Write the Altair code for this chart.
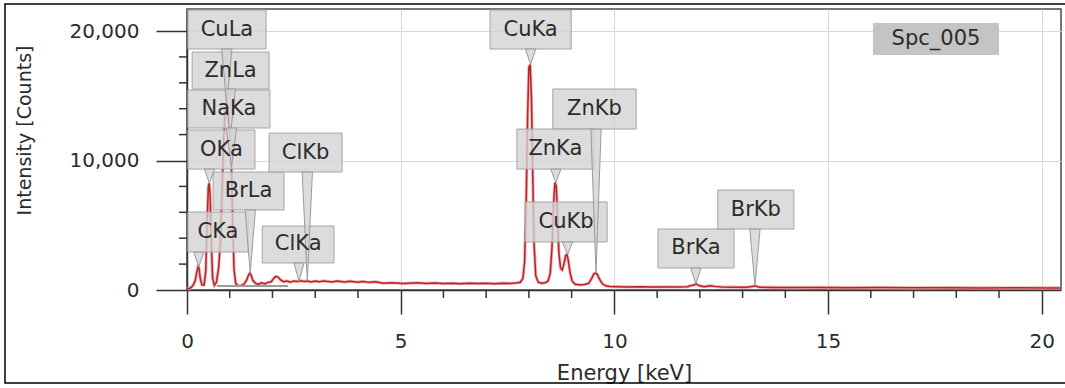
import altair as alt
import pandas as pd

# ---- EDS spectrum (energy in keV, intensity in counts) ----
energy_kev = [
    0.00, 0.08, 0.14, 0.19, 0.23, 0.26, 0.28, 0.31, 0.35, 0.40, 0.44, 0.47,
    0.50, 0.52, 0.54, 0.57, 0.60, 0.64, 0.69, 0.74, 0.78, 0.82, 0.86, 0.89,
    0.92, 0.95, 0.98, 1.01, 1.04, 1.07, 1.10, 1.14, 1.20, 1.27, 1.34, 1.40,
    1.44, 1.47, 1.50, 1.54, 1.60, 1.67, 1.74, 1.82, 1.90, 1.97, 2.03, 2.08,
    2.13, 2.19, 2.26, 2.34, 2.42, 2.50, 2.58, 2.66, 2.74, 2.82, 2.90, 3.00,
    3.10, 3.20, 3.30, 3.40, 3.50, 3.60, 3.70, 3.80, 3.90, 4.00, 4.10, 4.20,
    4.30, 4.40, 4.50, 4.60, 4.75, 4.90, 5.05, 5.20, 5.40, 5.60, 5.80, 6.00,
    6.20, 6.40, 6.60, 6.80, 7.00, 7.20, 7.40, 7.55, 7.70, 7.80, 7.86, 7.90,
    7.94, 7.97, 8.00, 8.03, 8.06, 8.09, 8.12, 8.16, 8.22, 8.30, 8.38, 8.45,
    8.50, 8.54, 8.58, 8.61, 8.64, 8.67, 8.70, 8.74, 8.78, 8.82, 8.86, 8.89,
    8.92, 8.96, 9.01, 9.08, 9.18, 9.30, 9.40, 9.47, 9.52, 9.56, 9.60, 9.65,
    9.72, 9.80, 9.90, 10.05, 10.30, 10.60, 10.90, 11.20, 11.50, 11.70, 11.85,
    11.92, 12.00, 12.10, 12.25, 12.35, 12.50, 12.80, 13.10, 13.25, 13.30,
    13.40, 13.70, 14.20, 14.80, 15.50, 16.20, 17.00, 17.80, 18.60, 19.40,
    20.20, 20.45,
]
intensity_counts = [
    80, 150, 350, 700, 1400, 1800, 1700, 900, 400, 380, 1500, 5200,
    8000, 8250, 7400, 3500, 900, 350, 600, 1700, 3600, 7500, 11800, 13600,
    14400, 14300, 13300, 11800, 9500, 5200, 1600, 500, 320, 350, 480, 800,
    1150, 1300, 1150, 750, 520, 430, 560, 470, 590, 640, 900, 1050,
    1000, 780, 640, 700, 610, 690, 650, 720, 660, 700, 620, 690,
    640, 700, 660, 620, 690, 650, 610, 680, 640, 600, 660, 620,
    590, 640, 580, 520, 560, 540, 500, 530, 560, 510, 540, 500,
    520, 490, 530, 500, 520, 490, 530, 510, 540, 600, 900, 2200,
    7500, 13500, 17200, 17400, 14800, 8800, 3600, 1100, 600, 520, 560, 700,
    1300, 3300, 6800, 8300, 8000, 5600, 2900, 1700, 1550, 2000, 2650, 2750,
    2300, 1400, 700, 450, 400, 420, 520, 900, 1250, 1320, 1200, 850,
    480, 320, 270, 260, 240, 250, 230, 240, 230, 250, 380,
    450, 320, 260, 330, 280, 230, 220, 210, 290, 300,
    220, 200, 190, 200, 180, 190, 170, 180, 160, 170,
    160, 160,
]

# ---- identified X-ray lines ----
line_names = ["CuLa", "ZnLa", "NaKa", "OKa", "BrLa", "CKa", "ClKb", "ClKa",
              "CuKa", "ZnKb", "ZnKa", "CuKb", "BrKa", "BrKb"]
line_kev = [0.930, 1.012, 1.041, 0.525, 1.480, 0.277, 2.815, 2.621,
            8.040, 9.570, 8.630, 8.904, 11.907, 13.289]
line_tip_counts = [14400, 11800, 9500, 8250, 1300, 1800, 700, 680,
                   17400, 1320, 8300, 2750, 450, 300]

# label box placement (keV for left/right, counts for top/bottom)
box_left = [0.02, 0.12, 0.02, 0.02, 0.61, 0.02, 1.92, 1.76,
            7.09, 8.56, 7.72, 7.91, 11.02, 12.42]
box_right = [1.85, 1.92, 1.94, 1.59, 2.27, 1.43, 3.63, 3.44,
             8.99, 10.51, 9.52, 9.83, 12.80, 14.20]
box_top = [21620, 18380, 15440, 12360, 9110, 6020, 12120, 4940,
           21620, 15520, 12430, 6800, 4710, 7720]
box_bottom = [18610, 15520, 12510, 9340, 6180, 2930, 9110, 2090,
              18610, 12430, 9340, 3710, 1700, 4710]

# spectrum tag
spectrum_name = ["Spc_005"]
tag_left, tag_right, tag_top, tag_bottom = [16.05], [19.00], [20620], [18150]

# region marker drawn near the baseline
roi_start, roi_end, roi_level = [0.70], [2.36], [300]

# axis ticks
x_major = [0, 5, 10, 15, 20]
x_minor = [1, 2, 3, 4, 6, 7, 8, 9, 11, 12, 13, 14, 16, 17, 18, 19]
y_major = [0, 10000, 20000]
y_minor = [2000, 4000, 6000, 8000, 12000, 14000, 16000, 18000]

X_MAX = 20.45
Y_MAX = 21700
W, H = 874, 281
FONT = "DejaVu Sans"
INK = "#2b2b2b"
POINTER_HALF = 0.12  # keV

x_scale = alt.Scale(domain=[0, X_MAX], nice=False, zero=False)
y_scale = alt.Scale(domain=[0, Y_MAX], nice=False, zero=False)

x_axis = alt.Axis(
    values=x_major, format="d", title="Energy [keV]",
    tickSize=24, tickWidth=1.5, tickColor="#333", domainColor="#333", domainWidth=1.5,
    labelFont=FONT, labelFontSize=20, labelColor=INK, labelPadding=17,
    labelFlush=False, labelOverlap=False,
    grid=True, gridColor="#d8d8d8", gridWidth=1,
    titleFont=FONT, titleFontSize=21, titleFontWeight="normal", titleColor=INK,
    titleY=72, titleBaseline="top",
)
y_axis = alt.Axis(
    values=y_major, format=",d", title="Intensity [Counts]",
    tickSize=31, tickWidth=1.5, tickColor="#333", domainColor="#333", domainWidth=1.5,
    labelFont=FONT, labelFontSize=20, labelColor=INK, labelPadding=17,
    labelFlush=False, labelOverlap=False,
    grid=True, gridColor="#d8d8d8", gridWidth=1,
    titleFont=FONT, titleFontSize=19, titleFontWeight="normal", titleColor=INK,
    titleX=-163, titleY=121, titleAngle=270, titleAlign="center", titleBaseline="middle",
)


def xq(field):
    # every layer shares one x scale and the same axis definition
    return alt.X(field, type="quantitative", scale=x_scale, axis=x_axis)


def yq(field):
    return alt.Y(field, type="quantitative", scale=y_scale, axis=y_axis)


spec_df = pd.DataFrame({"energy": energy_kev, "counts": intensity_counts})

halo = alt.Chart(spec_df).mark_line(color="#eda6a6", strokeWidth=3.2, opacity=0.85).encode(
    x=xq("energy"), y=yq("counts"), order="energy:Q",
)
spectrum = alt.Chart(spec_df).mark_line(color="#bb2228", strokeWidth=1.5).encode(
    x=xq("energy"), y=yq("counts"), order="energy:Q",
)

roi = alt.Chart(pd.DataFrame({"a": roi_start, "b": roi_end, "lvl": roi_level})).mark_rule(
    color="#9c9c9c", strokeWidth=2
).encode(x=xq("a"), x2="b:Q", y=yq("lvl"))

# minor ticks on both axes
minor_x = alt.Chart(pd.DataFrame({"v": x_minor})).mark_rule(color="#333", strokeWidth=1.5).encode(
    x=xq("v"), y=alt.value(H), y2=alt.value(H + 8)
)
minor_y = alt.Chart(pd.DataFrame({"v": y_minor})).mark_rule(color="#333", strokeWidth=1.5).encode(
    y=yq("v"), x=alt.value(-8), x2=alt.value(0)
)

# label boxes
box_df = pd.DataFrame({
    "name": line_names, "left": box_left, "right": box_right,
    "top": box_top, "bottom": box_bottom,
})
box_df["cx"] = (box_df["left"] + box_df["right"]) / 2
box_df["cy"] = (box_df["top"] + box_df["bottom"]) / 2

boxes = alt.Chart(box_df).mark_rect(
    fill="#d3d3d3", fillOpacity=0.8, stroke="#a4a4a4", strokeWidth=1
).encode(x=xq("left"), x2="right:Q", y=yq("bottom"), y2="top:Q")

# pointer triangles from each box down to its line
ptr_rows = []
for name, kev, tip, bot in zip(line_names, line_kev, line_tip_counts, box_bottom):
    ptr_rows.append({"name": name, "yy": bot, "xl": kev - POINTER_HALF, "xr": kev + POINTER_HALF})
    ptr_rows.append({"name": name, "yy": tip, "xl": kev, "xr": kev})
ptr_df = pd.DataFrame(ptr_rows)

pointers = alt.Chart(ptr_df).mark_area(
    orient="horizontal", fill="#d3d3d3", fillOpacity=0.8, stroke="#9a9a9a", strokeWidth=1
).encode(y=yq("yy"), x=xq("xl"), x2="xr:Q", detail="name:N")

labels = alt.Chart(box_df).mark_text(
    font=FONT, fontSize=21, color=INK, align="center", baseline="middle"
).encode(x=xq("cx"), y=yq("cy"), text="name:N")

tag_df = pd.DataFrame({"name": spectrum_name, "l": tag_left, "r": tag_right,
                       "t": tag_top, "b": tag_bottom})
tag_df["cx"] = (tag_df["l"] + tag_df["r"]) / 2
tag_df["cy"] = (tag_df["t"] + tag_df["b"]) / 2
tag_box = alt.Chart(tag_df).mark_rect(fill="#c4c4c4").encode(
    x=xq("l"), x2="r:Q", y=yq("b"), y2="t:Q"
)
tag_text = alt.Chart(tag_df).mark_text(
    font=FONT, fontSize=21, color=INK, align="center", baseline="middle"
).encode(x=xq("cx"), y=yq("cy"), text="name:N")

# thin black frame around the figure
frame = alt.Chart(pd.DataFrame({"k": [0]})).mark_rect(
    fill="transparent", stroke="black", strokeWidth=1.5
).encode(
    x=alt.value(-182), x2=alt.value(W + 20), y=alt.value(-5), y2=alt.value(H + 93)
)

chart = alt.layer(
    halo, spectrum, roi, minor_x, minor_y, boxes, pointers, labels, tag_box, tag_text, frame
).properties(
    width=W, height=H,
    autosize=alt.AutoSizeParams(type="none"),
    padding={"left": 187, "top": 9, "right": 4, "bottom": 98},
    background="white",
).configure_view(stroke="#4a4a4a", strokeWidth=1.5)

chart.save("out.html", embed_options={"renderer": "svg", "actions": False})
